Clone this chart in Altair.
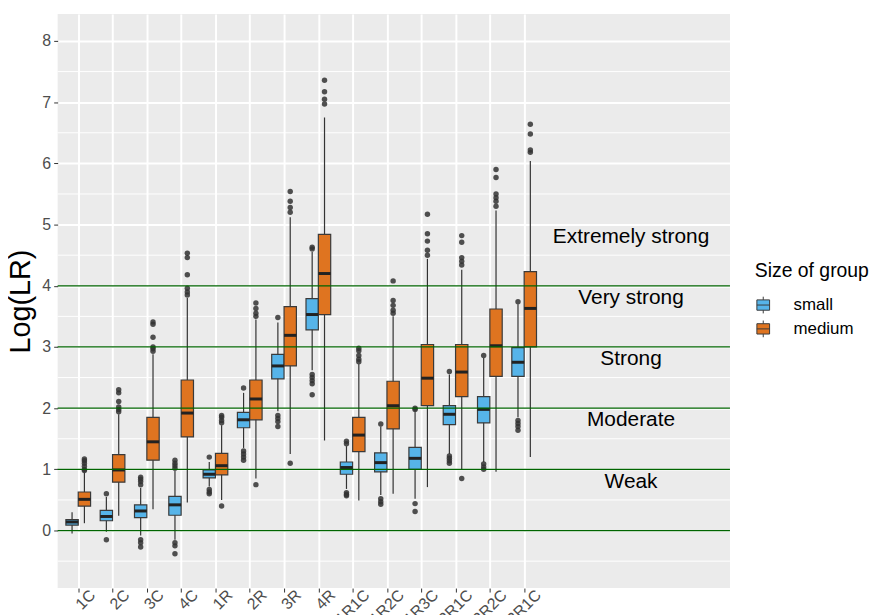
import json
import altair as alt
import pandas as pd

cats = ["1C", "2C", "3C", "4C", "1R", "2R", "3R", "4R",
        "1R1C", "1R2C", "1R3C", "2R1C", "2R2C", "3R1C"]
groups = ["small", "medium"]

small_lower = [-0.05, -0.02, -0.08, -0.15, 0.72, 1.35, 1.95, 2.62, 0.68, 0.58, 0.52, 1.25, 1.12, 1.85]
small_q1 = [0.09, 0.16, 0.21, 0.25, 0.86, 1.68, 2.48, 3.28, 0.92, 0.96, 1.00, 1.73, 1.76, 2.52]
small_median = [0.14, 0.23, 0.32, 0.42, 0.92, 1.81, 2.69, 3.53, 1.03, 1.11, 1.18, 1.90, 1.98, 2.75]
small_q3 = [0.18, 0.33, 0.42, 0.56, 0.99, 1.93, 2.88, 3.79, 1.12, 1.27, 1.36, 2.04, 2.19, 2.99]
small_upper = [0.30, 0.55, 0.70, 0.98, 1.12, 2.25, 3.40, 4.55, 1.38, 1.70, 1.95, 2.55, 2.82, 3.70]
small_outliers = [
    [],
    [0.60, -0.15],
    [0.75, 0.80, 0.84, 0.87, -0.15, -0.20, -0.27],
    [1.02, 1.06, 1.10, 1.15, -0.20, -0.25, -0.38],
    [1.20, 0.67, 0.63, 0.60],
    [2.33, 1.30, 1.25, 1.20, 1.15],
    [3.48, 1.88, 1.83, 1.78, 1.70],
    [4.60, 4.63, 2.55, 2.50, 2.45, 2.40, 2.22],
    [1.42, 1.46, 0.62, 0.59, 0.57],
    [1.74, 0.52, 0.47, 0.43],
    [1.98, 2.00, 0.44, 0.31],
    [2.60, 1.22, 1.18, 1.14, 1.10],
    [2.86, 1.09, 1.04, 1.00],
    [3.74, 1.80, 1.75, 1.70, 1.64],
]

medium_lower = [0.12, 0.24, 0.35, 0.46, 0.50, 0.85, 1.25, 1.47, 0.49, 0.60, 0.71, 1.00, 0.96, 1.20]
medium_q1 = [0.40, 0.79, 1.15, 1.53, 0.91, 1.81, 2.69, 3.53, 1.29, 1.66, 2.04, 2.19, 2.52, 3.00]
medium_median = [0.51, 0.99, 1.45, 1.92, 1.06, 2.15, 3.19, 4.20, 1.56, 2.04, 2.49, 2.59, 3.02, 3.63]
medium_q3 = [0.63, 1.24, 1.85, 2.46, 1.26, 2.46, 3.66, 4.84, 1.85, 2.44, 3.04, 3.04, 3.62, 4.23]
medium_upper = [0.95, 1.90, 2.88, 3.80, 1.72, 3.45, 5.12, 6.75, 2.72, 3.50, 4.44, 4.26, 5.23, 6.04]
medium_outliers = [
    [0.98, 1.00, 1.05, 1.10, 1.14, 1.17],
    [1.94, 1.98, 2.02, 2.11, 2.25, 2.30],
    [2.93, 2.97, 3.00, 3.16, 3.37, 3.41],
    [3.85, 3.90, 3.96, 4.18, 4.46, 4.53],
    [1.76, 1.80, 1.85, 1.88, 0.40],
    [3.50, 3.55, 3.63, 3.72, 0.75],
    [5.20, 5.28, 5.38, 5.54, 1.10],
    [6.97, 7.05, 7.17, 7.36],
    [2.76, 2.80, 2.86, 2.94, 2.98],
    [3.55, 3.60, 3.68, 3.76, 4.08],
    [4.50, 4.58, 4.73, 4.85, 5.17],
    [4.34, 4.40, 4.46, 4.71, 4.82, 0.85],
    [5.30, 5.38, 5.44, 5.50, 5.77, 5.90],
    [6.18, 6.22, 6.48, 6.64],
]

threshold_values = [0, 1, 2, 3, 4]
strength_labels = ["Weak", "Moderate", "Strong", "Very strong", "Extremely strong"]
strength_y = [0.8, 1.8, 2.8, 3.8, 4.8]
strength_x = 17
y_ticks = [0, 1, 2, 3, 4, 5, 6, 7, 8]
y_minor = [-0.5, 0.5, 1.5, 2.5, 3.5, 4.5, 5.5, 6.5, 7.5]

# ---- tables built from the arrays ----
stats = {
    "small": (small_lower, small_q1, small_median, small_q3, small_upper, small_outliers),
    "medium": (medium_lower, medium_q1, medium_median, medium_q3, medium_upper, medium_outliers),
}
box_rows, out_rows = [], []
for g in groups:
    lo, q1, md, q3, up, outs = stats[g]
    for i, c in enumerate(cats):
        box_rows.append(dict(cat=c, idx=i + 1, group=g, lw=lo[i], q1=q1[i],
                             med=md[i], q3=q3[i], uw=up[i]))
        for v in outs[i]:
            out_rows.append(dict(cat=c, idx=i + 1, group=g, v=v))
box_df = pd.DataFrame(box_rows)
out_df = pd.DataFrame(out_rows)
text_df = pd.DataFrame({"label": strength_labels, "y": strength_y, "x": strength_x})
thr_df = pd.DataFrame({"y": threshold_values})
minor_df = pd.DataFrame({"y": y_minor})

FONT = "Liberation Sans"
BLUE = "#56B4E9"
ORANGE = "#DF7420"

xscale = alt.Scale(domain=[0.4, 20.0], nice=False, zero=False)
yscale = alt.Scale(domain=[-0.94, 8.44], nice=False, zero=False)
label_expr = json.dumps(cats) + "[round(datum.value) - 1]"
xaxis = alt.Axis(values=list(range(1, len(cats) + 1)), labelExpr=label_expr,
                 labelAngle=-45, labelAlign="right", labelBaseline="line-top",
                 labelLineHeight=41, labelPadding=-14,
                 labelOverlap=False, labelBound=False, title=None)
yaxis = alt.Axis(values=y_ticks, title="Log(LR)", titleFontSize=29,
                 titleFontWeight="normal", titleColor="black", titlePadding=6,
                 labelPadding=3)

dodge = "datum.idx + (datum.group == 'small' ? -0.18 : 0.18)"

minor = alt.Chart(minor_df).mark_rule(color="white", strokeWidth=1).encode(
    y=alt.Y("y:Q", scale=yscale, axis=yaxis)
)

whisk = alt.Chart(box_df).transform_calculate(pos=dodge).mark_rule(
    color="#333333", strokeWidth=1.2
).encode(
    x=alt.X("pos:Q", scale=xscale, axis=xaxis),
    y=alt.Y("lw:Q", scale=yscale, axis=yaxis),
    y2="uw:Q",
)

box = alt.Chart(box_df).transform_calculate(pos=dodge).transform_calculate(
    left="datum.pos - 0.18", right="datum.pos + 0.18"
).mark_rect(stroke="#3a3a3a", strokeWidth=1.2).encode(
    x=alt.X("left:Q", scale=xscale, axis=xaxis),
    x2="right:Q",
    y=alt.Y("q1:Q", scale=yscale, axis=yaxis),
    y2="q3:Q",
    color=alt.Color(
        "group:N",
        scale=alt.Scale(domain=groups, range=[BLUE, ORANGE]),
        legend=alt.Legend(
            title="Size of group", orient="none", legendX=702, legendY=250,
            symbolType="M-0.8,-0.65H0.8V0.65H-0.8Z M-0.8,0H0.8 M0,-1.05V-0.65 M0,0.65V1.05",
            symbolSize=256, symbolStrokeColor="#3a3a3a", symbolStrokeWidth=1,
            symbolOpacity=1, titleFontSize=19.5, titleFontWeight="normal",
            titleColor="black", titleFont=FONT, labelFont=FONT, labelFontSize=17,
            labelColor="black", titlePadding=15, rowPadding=3, labelOffset=22,
            padding=0,
        ),
    ),
)

median = alt.Chart(box_df).transform_calculate(pos=dodge).transform_calculate(
    left="datum.pos - 0.18", right="datum.pos + 0.18"
).mark_rule(color="#222222", strokeWidth=3).encode(
    x=alt.X("left:Q", scale=xscale, axis=xaxis),
    x2="right:Q",
    y=alt.Y("med:Q", scale=yscale, axis=yaxis),
)

outl = alt.Chart(out_df).transform_calculate(pos=dodge).mark_circle(
    size=30, color="#333333", opacity=0.85
).encode(
    x=alt.X("pos:Q", scale=xscale, axis=xaxis),
    y=alt.Y("v:Q", scale=yscale, axis=yaxis),
)

thr = alt.Chart(thr_df).mark_rule(color="#006400", strokeWidth=1.3).encode(
    y=alt.Y("y:Q", scale=yscale, axis=yaxis)
)

txt = alt.Chart(text_df).mark_text(fontSize=21, font=FONT, color="black", dx=4).encode(
    x=alt.X("x:Q", scale=xscale, axis=xaxis),
    y=alt.Y("y:Q", scale=yscale, axis=yaxis),
    text="label:N",
)

chart = alt.layer(minor, whisk, box, median, outl, thr, txt).properties(
    width=677, height=578,
    autosize=alt.AutoSizeParams(type="none"),
    padding={"left": 50, "top": 4, "right": 140, "bottom": 25},
).configure_view(
    fill="#EBEBEB", strokeWidth=0
).configure_axis(
    gridColor="white", gridWidth=2, domain=False, tickColor="#333333",
    tickSize=4, labelColor="#4D4D4D", labelFontSize=16, labelFont=FONT,
    titleFont=FONT,
)

chart.save("out.html", embed_options={"renderer": "svg", "actions": False})
